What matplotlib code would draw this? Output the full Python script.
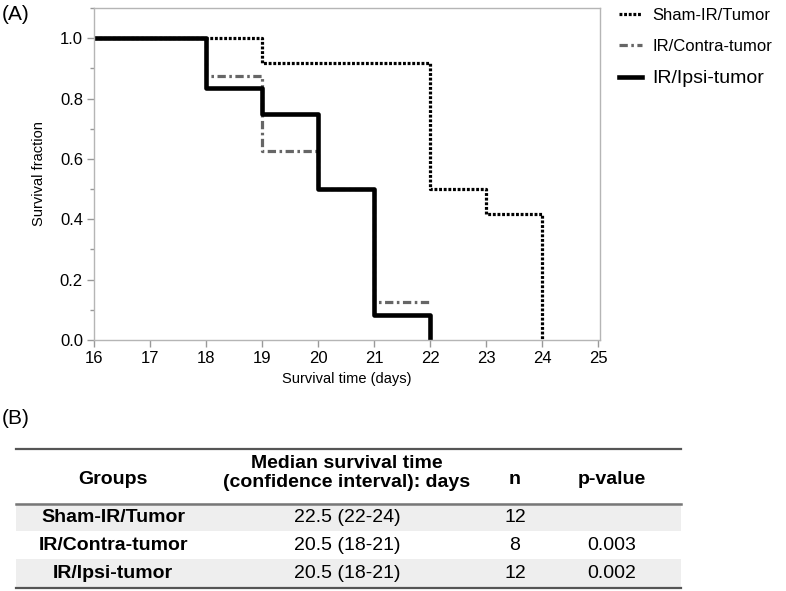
import numpy as np
import matplotlib.pyplot as plt
from matplotlib.ticker import MultipleLocator

plt.rcParams['font.family'] = ['Liberation Sans', 'DejaVu Sans']

# Kaplan-Meier step data (time in days, survival fraction)
sham_t = [16, 19, 22, 23, 24]
sham_s = [1.0, 11/12, 6/12, 5/12, 0.0]
contra_t = [16, 18, 19, 20, 21, 22]
contra_s = [1.0, 7/8, 5/8, 4/8, 1/8, 1/8]
ipsi_t = [16, 18, 19, 20, 21, 22]
ipsi_s = [1.0, 10/12, 9/12, 6/12, 1/12, 0.0]

labels = ['Sham-IR/Tumor', 'IR/Contra-tumor', 'IR/Ipsi-tumor']

# table (B)
col_heads = ['Groups', 'Median survival time\n(confidence interval): days', 'n', 'p-value']
medians = ['22.5 (22-24)', '20.5 (18-21)', '20.5 (18-21)']
n_vals = ['12', '8', '12']
p_vals = ['', '0.003', '0.002']

W, H = 786, 591
fig = plt.figure(figsize=(W / 100, H / 100), dpi=100)

# ---- panel A ----
ax = fig.add_axes([94 / W, 1 - 340 / H, (600 - 94) / W, (340 - 8) / H])
ax.step(sham_t, sham_s, where='post', color='black', lw=2.3,
        linestyle=(0, (0.9, 0.55)), label=labels[0])
ax.step(contra_t, contra_s, where='post', color='#666666', lw=2.3,
        linestyle=(0, (2.6, 1.1, 0.8, 1.1)), label=labels[1])
ax.step(ipsi_t, ipsi_s, where='post', color='black', lw=3.3,
        label=labels[2])

ax.set_xlim(16, 25.03)
ax.set_ylim(0, 1.1)
ax.set_xticks(np.arange(16, 26))
ax.set_yticks(np.arange(0, 1.01, 0.2))
ax.yaxis.set_minor_locator(MultipleLocator(0.1))
ax.set_yticklabels(['%.1f' % v for v in np.arange(0, 1.01, 0.2)])
for sp in ax.spines.values():
    sp.set_color('#b5b5b5')
    sp.set_linewidth(1.0)
ax.tick_params(axis='both', which='major', labelsize=12, color='#999999',
               length=5, width=1, pad=3)
ax.tick_params(axis='y', which='minor', color='#999999', length=3, width=1)
ax.set_xlabel('Survival time (days)', fontsize=10.5, labelpad=4)
ax.set_ylabel('Survival fraction', fontsize=10.5, labelpad=10)

leg = ax.legend(loc='upper left', bbox_to_anchor=(619 / W, 1 - 8 / H),
                bbox_transform=fig.transFigure, frameon=False, fontsize=12,
                borderpad=0, borderaxespad=0, handlelength=1.4,
                handletextpad=0.6, labelspacing=0.95)
leg.get_texts()[2].set_fontsize(14)

fig.text(2 / W, 1 - 15 / H, '(A)', fontsize=15, va='center', ha='left')
fig.text(2 / W, 1 - 418 / H, '(B)', fontsize=15, va='center', ha='left')

# ---- panel B: table ----
tb = fig.add_axes([0, 0, 1, 1])
tb.set_xlim(0, W)
tb.set_ylim(H, 0)
tb.axis('off')

x0, x1 = 16, 681
col_x = [113, 347, 515, 612]
row_y = [517, 545, 573]
row_h = 28

for i, y in enumerate(row_y):
    if i % 2 == 0:
        tb.axhspan(y - row_h / 2, y + row_h / 2, xmin=x0 / W, xmax=x1 / W,
                   color='#eeeeee', lw=0)

tb.plot([x0, x1], [449, 449], color='#555555', lw=1.6)
tb.plot([x0, x1], [504, 504], color='#777777', lw=1.8)
tb.plot([x0, x1], [588, 588], color='#555555', lw=1.6)

tb.text(col_x[0], 479, col_heads[0], fontsize=14, fontweight='bold',
        ha='center', va='center')
tb.text(col_x[1], 473, col_heads[1], fontsize=14, fontweight='bold',
        ha='center', va='center', linespacing=1.2)
tb.text(col_x[2], 479, col_heads[2], fontsize=14, fontweight='bold',
        ha='center', va='center')
tb.text(col_x[3], 479, col_heads[3], fontsize=14, fontweight='bold',
        ha='center', va='center')

for i, y in enumerate(row_y):
    tb.text(col_x[0], y, labels[i], fontsize=14, fontweight='bold',
            ha='center', va='center')
    tb.text(col_x[1], y, medians[i], fontsize=14, ha='center', va='center')
    tb.text(col_x[2], y, n_vals[i], fontsize=14, ha='center', va='center')
    tb.text(col_x[3], y, p_vals[i], fontsize=14, ha='center', va='center')

fig.savefig('out.png', dpi=100)
